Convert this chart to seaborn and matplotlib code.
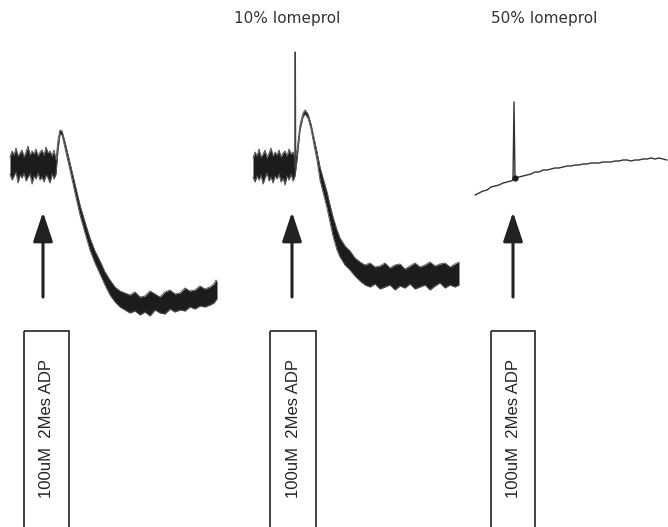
"""
plot.py — tiga rekaman agregasi trombosit (ADP 100uM 2MeS) dengan kontras iomeprol.
Sumbu-y: sinyal agregasi (a.u.), agregasi bertambah ke bawah (konvensi agregometer).
"""

import matplotlib
matplotlib.use("Agg")
import matplotlib.pyplot as plt
import pandas as pd
import seaborn as sns
from matplotlib.patches import Rectangle

# ── Data ──────────────────────────────────────────────────────────────────
# Panel 1 — kontrol, pita noise (batas atas / bawah)
P1_T = [0, 2, 4, 6, 8, 10, 12, 14, 16, 18, 20, 22, 24, 26, 28, 30, 32, 34,
        36, 38, 40, 42, 44, 46,
        48, 50, 52, 55, 60, 65, 70, 75, 80, 85, 90, 95, 100, 105, 110, 115,
        120, 125, 130, 135, 140, 145, 150, 155, 160, 165, 170, 175, 180,
        185, 190, 195, 200, 204, 206, 207]
P1_UP = [157, 151, 155, 148, 156, 153, 150, 157, 152, 146, 155, 151, 154,
         149, 156, 152, 150, 155, 147, 153, 151, 156, 150, 160,
         140, 130, 131, 142, 163, 184, 205, 222, 238, 251, 261, 272, 280, 287,
         291, 293,
         295, 292, 297, 296, 291, 294, 297, 292, 290, 294, 293, 288, 291,
         290, 286, 289, 287, 284, 280, 282]
P1_LO = [174, 180, 176, 172, 183, 175, 178, 173, 181, 177, 174, 184, 176,
         179, 173, 180, 177, 182, 175, 178, 183, 174, 179, 174,
         150, 134, 135, 148, 170, 193, 215, 233, 250, 263, 274, 285, 295, 302,
         307, 310,
         313, 311, 315, 312, 316, 310, 313, 314, 309, 312, 310, 311, 307,
         309, 306, 307, 305, 303, 300, 299]

# Panel 2 — 10% iomeprol
P2_T = [0, 2, 4, 6, 8, 10, 12, 14, 16, 18, 20, 22, 24, 26, 28, 30, 32, 34,
        36, 38, 40, 42,
        44, 47, 50, 52, 55, 58, 61, 64, 67, 70, 74, 77, 80, 84, 87, 92, 97,
        102, 107, 112, 117, 122, 127, 132, 137, 142, 147, 152, 157, 162, 167,
        172, 177, 182, 187, 192, 197, 202, 206]
P2_UP = [158, 152, 156, 149, 157, 154, 150, 158, 153, 148, 156, 152, 155,
         150, 157, 153, 151, 156, 149, 154, 152, 158,
         150, 125, 113, 110, 114, 124, 138, 152, 167, 178, 192, 205, 217, 230,
         238, 246, 251,
         258, 262, 265, 263, 267, 266, 263, 268, 265, 264, 269, 266, 263, 267,
         265, 262, 266, 264, 263, 267, 264, 262]
P2_LO = [177, 182, 176, 180, 175, 184, 178, 173, 181, 177, 183, 176, 179,
         174, 182, 178, 185, 176, 180, 174, 181, 176,
         160, 130, 117, 114, 118, 129, 145, 160, 180, 192, 208, 222, 236, 250,
         257, 265, 270,
         276, 281, 285, 287, 284, 289, 287, 285, 290, 286, 288, 284, 289, 287,
         285, 290, 286, 283, 288, 285, 287, 285]
P2_SPIKE_T = [42, 42.3, 42.6]
P2_SPIKE_Y = [168, 52, 166]

# Panel 3 — 50% iomeprol (tanpa agregasi)
P3_T = [0, 4, 8, 12, 16, 20, 24, 28, 32, 36, 38, 39, 40, 44, 48, 52, 56,
        60, 64, 68, 72, 76, 80, 84, 88, 92, 96, 100, 104, 108, 112, 116, 120,
        124, 128, 132, 136, 140, 144, 148, 152, 156, 160, 164, 168, 172, 176,
        180, 184, 188, 192]
P3_Y = [195, 193, 191, 190, 187, 186, 185, 183, 182, 181, 180, 102, 178,
        177, 176, 175, 174, 172, 172, 170, 170, 169, 168, 168, 167, 166, 166,
        165, 165, 164, 164, 163, 163, 163, 162, 162, 162, 161, 161, 160, 160,
        161, 160, 160, 159, 159, 158, 159, 158, 159, 160]

TRACE_START = [10, 253, 475]          # posisi awal rekaman (px)
ADP_TIME = [33, 39, 38]               # waktu penambahan ADP
ARROW_TIP, ARROW_TAIL = 212, 297
BOX_LEFT = [14, 17, 16]
BOX_WIDTH = [45, 46, 44]
BOX_TOP = 331
TITLES = ["", "10% Iomeprol", "50% Iomeprol"]
TITLE_T = [0, 34, 69]
LABEL = "100uM  2Mes ADP"

INK = "#1c1c1c"

# ── Plot ──────────────────────────────────────────────────────────────────
sns.set_theme(style="white")
plt.rcParams["font.family"] = ["Liberation Sans", "DejaVu Sans"]

fig = plt.figure(figsize=(6.68, 5.27), dpi=100)
fig.patch.set_facecolor("white")

axes = []
for start in TRACE_START:
    ax = fig.add_axes([(start - 10) / 668, 0, 220 / 668, 1])
    ax.set_xlim(-10, 210)
    ax.set_ylim(527, 0)
    ax.axis("off")
    axes.append(ax)

# pita noise panel 1 & 2
for ax, t, up, lo in [(axes[0], P1_T, P1_UP, P1_LO), (axes[1], P2_T, P2_UP, P2_LO)]:
    ax.fill_between(t, up, lo, color=INK, lw=0)
    edges = pd.DataFrame({
        "t": t + t,
        "y": up + lo,
        "edge": ["atas"] * len(t) + ["bawah"] * len(t),
    })
    sns.lineplot(data=edges, x="t", y="y", units="edge", estimator=None,
                 sort=False, color="#555555", lw=0.7, ax=ax, legend=False)

sns.lineplot(x=P2_SPIKE_T, y=P2_SPIKE_Y, estimator=None, sort=False,
             color="#444444", lw=1.0, ax=axes[1])
sns.lineplot(x=P3_T, y=P3_Y, estimator=None, sort=False,
             color="#333333", lw=1.0, ax=axes[2])
axes[2].scatter([40], [178], s=12, color=INK, zorder=3)

# panah, kotak label, judul
for i, ax in enumerate(axes):
    ax.annotate("", xy=(ADP_TIME[i], ARROW_TIP), xytext=(ADP_TIME[i], ARROW_TAIL),
                arrowprops=dict(arrowstyle="-|>,head_width=0.3,head_length=0.9",
                                mutation_scale=20, lw=2.2, color="#222222",
                                shrinkA=0, shrinkB=0))
    ax.add_patch(Rectangle((BOX_LEFT[i], BOX_TOP), BOX_WIDTH[i], 260,
                           fill=False, edgecolor="#222222", lw=1.2, clip_on=False))
    ax.text(BOX_LEFT[i] + BOX_WIDTH[i] / 2, 428, LABEL, rotation=90,
            ha="center", va="center", fontsize=12, color="#222222")
    if TITLES[i]:
        ax.text(TITLE_T[i], 18, TITLES[i], ha="center", va="center",
                fontsize=11, color="#333333", family="DejaVu Sans")

fig.savefig("out.png", dpi=100)
